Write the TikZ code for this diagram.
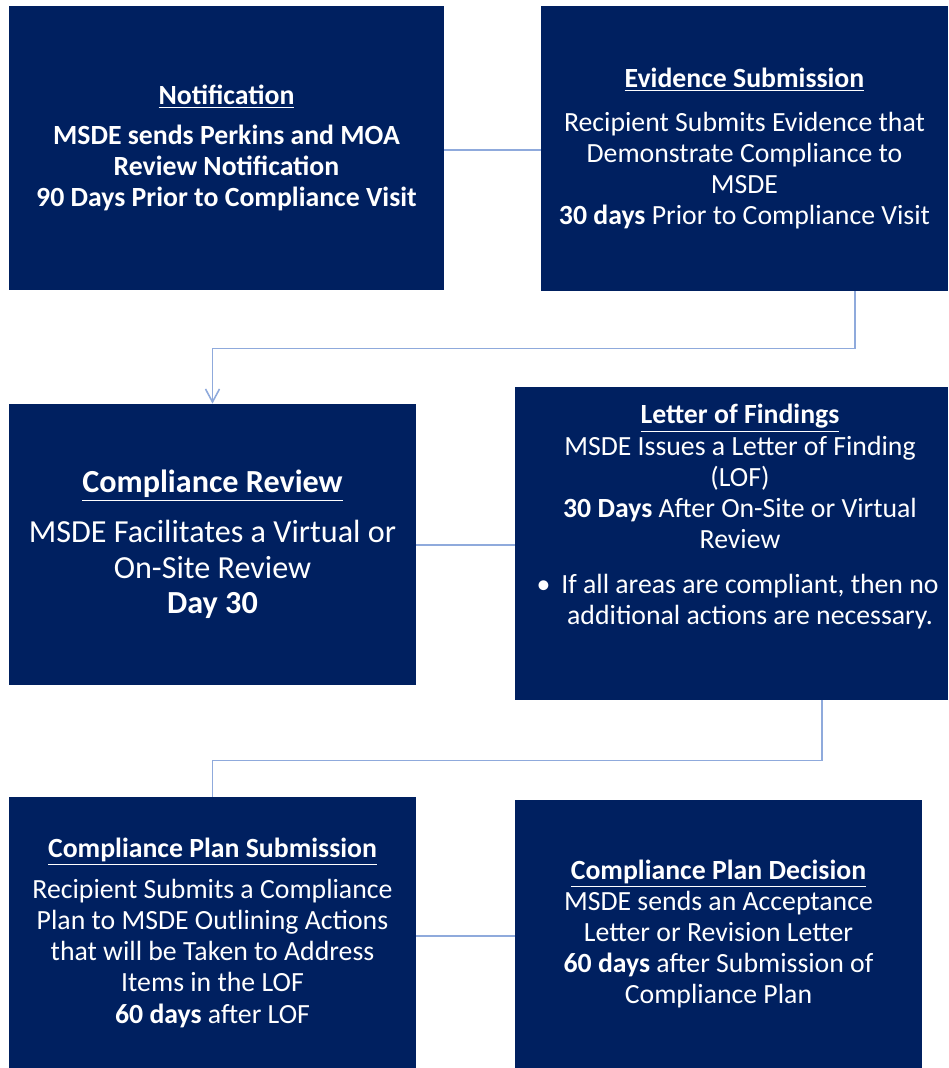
\documentclass[tikz,border=0pt]{standalone}
\usepackage[]{fontspec}
\usepackage[]{tikz}
\usepackage[]{xcolor}
\setmainfont{Carlito}
\usetikzlibrary{arrows.meta}
\usetikzlibrary{positioning}
\definecolor{navy}{HTML}{002060}
\definecolor{linkblue}{HTML}{8FAADC}
\tikzset{box/.style = {fill=navy, text=white, inner sep=0, align=center, font=\fontsize{15.8}{17.7}\selectfont},
         link/.style = {draw=linkblue, line width=0.9pt}}

\begin{document}
\begin{tikzpicture}
            \useasboundingbox (0,0) rectangle (18.96,-21.36);
            \node [box, minimum width=8.70cm, minimum height=5.68cm] (notif) at (4.53,-2.96) {\underline{\textbf{Notification}}\\[5pt] \textbf{MSDE sends Perkins and MOA}\\ \textbf{Review Notification}\\ \textbf{90 Days Prior to Compliance Visit}};
            \node [box, minimum width=8.14cm, minimum height=5.70cm] (evid) at (14.89,-2.97) {\underline{\textbf{Evidence Submission}}\\[7pt] Recipient Submits Evidence that\\ Demonstrate Compliance to\\ MSDE\\ \textbf{30 days} Prior to Compliance Visit};
            \node [box, minimum width=8.14cm, minimum height=5.62cm, font=\fontsize{18.3}{20.3}\selectfont] (review) at (4.25,-10.89) {\underline{\textbf{Compliance Review}}\\[8pt] MSDE Facilitates a Virtual or\\ On-Site Review\\ \textbf{Day 30}};
            \node [box, minimum width=8.66cm, minimum height=6.26cm] (lof) at (14.63,-10.87) {};
            \node [box, anchor=north, fill=none] (loftext) at ([xshift=0.17cm, yshift=-0.35cm]lof.north) {\underline{\textbf{Letter of Findings}}\\ MSDE Issues a Letter of Finding\\ (LOF)\\ \textbf{30 Days} After On-Site or Virtual\\ Review\\[8pt] \hspace*{0.4cm}\llap{•\hspace{0.22cm}}If all areas are compliant, then no\\ \hspace*{0.4cm}additional actions are necessary.};
            \node [box, minimum width=8.14cm, minimum height=5.42cm] (plan) at (4.25,-18.65) {\underline{\textbf{Compliance Plan Submission}}\\[6pt] Recipient Submits a Compliance\\ Plan to MSDE Outlining Actions\\ that will be Taken to Address\\ Items in the LOF\\ \textbf{60 days} after LOF};
            \node [box, minimum width=8.14cm, minimum height=5.36cm] (decision) at (14.37,-18.68) {\underline{\textbf{Compliance Plan Decision}}\\ MSDE sends an Acceptance\\ Letter or Revision Letter\\ \textbf{60 days} after Submission of\\ Compliance Plan};
            \draw [link] (notif.east |- 0,-3.0) -- (evid.west |- 0,-3.0);
            \draw [link, -{Straight Barb[length=2.6mm, width=2.8mm]}] (evid.south -| 17.1,0) -- ++(0,-1.14) -| (review.north);
            \draw [link] (review.east |- 0,-10.9) -- (lof.west |- 0,-10.9);
            \draw [link] (lof.south -| 16.44,0) -- ++(0,-1.2) -| (plan.north);
            \draw [link] (plan.east |- 0,-18.72) -- (decision.west |- 0,-18.72);
        \end{tikzpicture}
\end{document}
